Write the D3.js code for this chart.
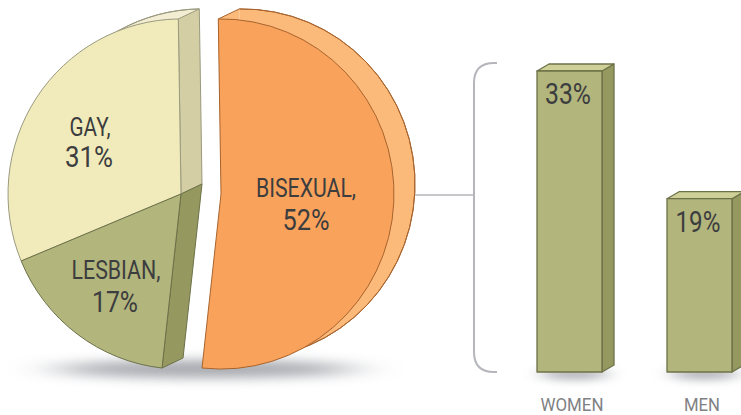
<!DOCTYPE html>
<html><head><meta charset="utf-8">
<script src="https://cdnjs.cloudflare.com/ajax/libs/d3/7.8.5/d3.min.js"></script>
<style>html,body{margin:0;padding:0;background:#fff;overflow:hidden}svg{display:block}
text{font-family:"Roboto",sans-serif;text-anchor:middle}</style>
</head><body><svg id="c" width="741" height="415"></svg>
<script>
const sliceNames = ["BISEXUAL,", "LESBIAN,", "GAY,"];
const sliceValues = [52, 17, 31];
const barNames = ["WOMEN", "MEN"];
const barValues = [33, 19];

const svg = d3.select("#c");
const defs = svg.append("defs");
defs.append("filter").attr("id","blur").attr("filterUnits","userSpaceOnUse")
  .attr("x",-100).attr("y",300).attr("width",700).attr("height",115)
  .append("feGaussianBlur").attr("stdDeviation","26 6");
defs.append("filter").attr("id","blur2").attr("filterUnits","userSpaceOnUse")
  .attr("x",480).attr("y",340).attr("width",300).attr("height",75)
  .append("feGaussianBlur").attr("stdDeviation","10 4");

const styles = [
 {front:"#f9a25b", wall:"#fbb97a", stroke:"#a8642e", c:[221,194]},
 {front:"#b2b57c", wall:"#95995f", stroke:"#6d7148", c:[181,194]},
 {front:"#f1ebbb", wall:"#d3cea3", stroke:"#9a9a80", c:[181,194], back:"#f3eed3"}
];
const depth = [21,-10];
const R = 173, sy = 1.012;
const start = -0.9*Math.PI/180;
const pie = d3.pie().sort(null).startAngle(start).endAngle(start+2*Math.PI);
const arcs = pie(sliceValues);
const arc = d3.arc().innerRadius(0).outerRadius(R);
const rimArc = d3.arc().innerRadius(R).outerRadius(R);
const rim = a => [R*Math.sin(a), -R*sy*Math.cos(a)];
const place = (s,d) => `translate(${s.c[0]+(d?depth[0]:0)},${s.c[1]+(d?depth[1]:0)}) scale(1,${sy})`;

// ground shadow
svg.append("ellipse").attr("cx",205).attr("cy",369).attr("rx",150).attr("ry",9)
  .attr("fill","#83878f").attr("opacity",.72).attr("filter","url(#blur)");

// back faces: fill, then only the outer rim is stroked
[0,2].forEach(i=>{
  const s=styles[i];
  svg.append("path").attr("d",arc(arcs[i])).attr("transform",place(s,true))
    .attr("fill",s.back||s.wall);
  svg.append("path").attr("d",rimArc(arcs[i])).attr("transform",place(s,true))
    .attr("fill","none").attr("stroke",s.stroke).attr("stroke-width",1).attr("vector-effect","non-scaling-stroke");
});

// radial walls
function wall(i, angle, full){
  const s=styles[i], [x,y]=rim(angle), [cx,cy]=s.c;
  const p=[[cx,cy],[cx+x,cy+y],[cx+x+depth[0],cy+y+depth[1]],[cx+depth[0],cy+depth[1]]];
  if(full){
    svg.append("path").attr("d",d3.line()(p)+"Z").attr("fill",s.wall).attr("stroke",s.stroke).attr("stroke-width",1);
  } else {
    svg.append("path").attr("d",d3.line()(p)+"Z").attr("fill",s.wall);
    svg.append("path").attr("d",d3.line()(p.slice(1,3))).attr("fill","none").attr("stroke",s.stroke).attr("stroke-width",1);
  }
}
wall(0, arcs[0].startAngle, false);
wall(2, arcs[2].endAngle, true);
wall(1, arcs[1].startAngle, true);

// front faces
[2,1,0].forEach(i=>{
  const s=styles[i];
  svg.append("path").attr("d",arc(arcs[i])).attr("transform",place(s,false))
    .attr("fill",s.front).attr("stroke",s.stroke).attr("stroke-width",1).attr("vector-effect","non-scaling-stroke");
});

// bracket and connector
const bx=474, by0=63, by1=372, br=20, bxe=497;
svg.append("path").attr("d",`M${bxe},${by0}H${bx+br}Q${bx},${by0} ${bx},${by0+br}V${by1-br}Q${bx},${by1} ${bx+br},${by1}H${bxe}`)
  .attr("fill","none").attr("stroke","#b5b6bb").attr("stroke-width",2);
svg.append("line").attr("x1",415).attr("x2",bx).attr("y1",195).attr("y2",195).attr("stroke","#b5b6bb").attr("stroke-width",1.5);

// bars
const x=d3.scaleBand().domain(barNames).range([537,732]).paddingInner(.5);
const y=d3.scaleLinear().domain([0,33]).range([372,71]);
const dx=12, dy=-7;
barNames.forEach((n,i)=>{
  const l=x(n), b=y(0);
  svg.append("ellipse").attr("cx",l+x.bandwidth()/2+5).attr("cy",b+2).attr("rx",34).attr("ry",6)
    .attr("fill","#83878f").attr("opacity",.62).attr("filter","url(#blur2)");
});
barNames.forEach((n,i)=>{
  const l=x(n), r=l+x.bandwidth(), t=y(barValues[i]), b=y(0);
  const st={stroke:"#6d7148","stroke-width":1.3,"stroke-linejoin":"round"};
  const poly=(p,f)=>{const e=svg.append("path").attr("d",d3.line()(p)+"Z").attr("fill",f);Object.entries(st).forEach(([k,v])=>e.attr(k,v));};
  poly([[r,t],[r+dx,t+dy],[r+dx,b+dy],[r,b]],"#95995f");
  poly([[l,t],[l+dx,t+dy],[r+dx,t+dy],[r,t]],"#cfd097");
  poly([[l,t],[r,t],[r,b],[l,b]],"#b2b57c");
});

// labels
function label(t,cx,base,size,len,fill){
  svg.append("text").attr("x",cx).attr("y",base).attr("font-size",size).attr("fill",fill||"#3c3d3f")
    .attr("textLength",len).attr("lengthAdjust","spacingAndGlyphs").text(t);
}
const pct=v=>v+"%";
label(sliceNames[2],90,136,25,41);
label(pct(sliceValues[2]),89,167,29,48);
label(sliceNames[1],116,279,25,89);
label(pct(sliceValues[1]),115,312,29,46);
label(sliceNames[0],306,197,25,100);
label(pct(sliceValues[0]),306,230,29,47);
label(pct(barValues[0]),568,104,29,46);
label(pct(barValues[1]),698,232,29,45);
label(barNames[0],572,411,19,63,"#808184");
label(barNames[1],702,411,19,36,"#808184");
</script></body></html>
